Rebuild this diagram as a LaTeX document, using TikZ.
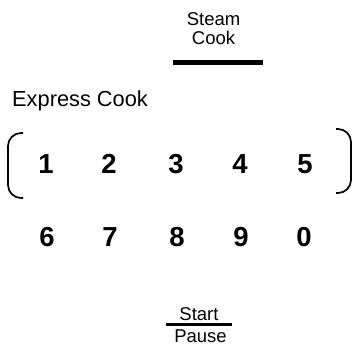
\documentclass[tikz,border=0pt]{standalone}
\usepackage{fontspec}
\setmainfont{Liberation Sans}
\begin{document}
\begin{tikzpicture}[x=1pt,y=1pt,
  small/.style={inner sep=0pt,anchor=base,font=\fontsize{18.5}{21}\selectfont},
  label/.style={inner sep=0pt,anchor=base west,font=\fontsize{21.8}{24}\selectfont},
  digit/.style={inner sep=0pt,anchor=base,font=\fontsize{27.5}{30}\selectfont\bfseries},
  bar/.style={line width=4.5pt},
  thinbar/.style={line width=2.6pt},
  bracket/.style={line width=1.7pt,rounded corners=13pt}]
\useasboundingbox (0,0) rectangle (356,-349);
% Steam Cook
\node[small] (steam) at (213.5,-25.5) {Steam};
\node[small] (cook) at (213.5,-44.5) {Cook};
\coordinate (sbL) at (173,-62.5);
\coordinate (sbR) at (263,-62.5);
\draw[bar] (sbL) -- (sbR);
% Express Cook
\node[label] (express) at (12,-106.5) {Express Cook};
% brackets
\draw[bracket] (23,-133) -- (8,-133) -- (8,-198) -- (23,-198);
\draw[bracket] (336,-129) -- (351,-129) -- (351,-193) -- (336,-193);
% digits
\node[digit] (d1) at (46,-173) {1};
\node[digit] (d2) at (109,-173) {2};
\node[digit] (d3) at (176,-173) {3};
\node[digit] (d4) at (240,-173) {4};
\node[digit] (d5) at (305,-173) {5};
\node[digit] (d6) at (47,-246) {6};
\node[digit] (d7) at (110,-246) {7};
\node[digit] (d8) at (177,-246) {8};
\node[digit] (d9) at (241,-246) {9};
\node[digit] (d0) at (304,-246) {0};
% Start / Pause
\node[small] (start) at (199,-320) {Start};
\node[small] (pause) at (200.5,-342) {Pause};
\coordinate (pbL) at (166,-324.5);
\coordinate (pbR) at (232,-324.5);
\draw[thinbar] (pbL) -- (pbR);
\end{tikzpicture}
\end{document}
